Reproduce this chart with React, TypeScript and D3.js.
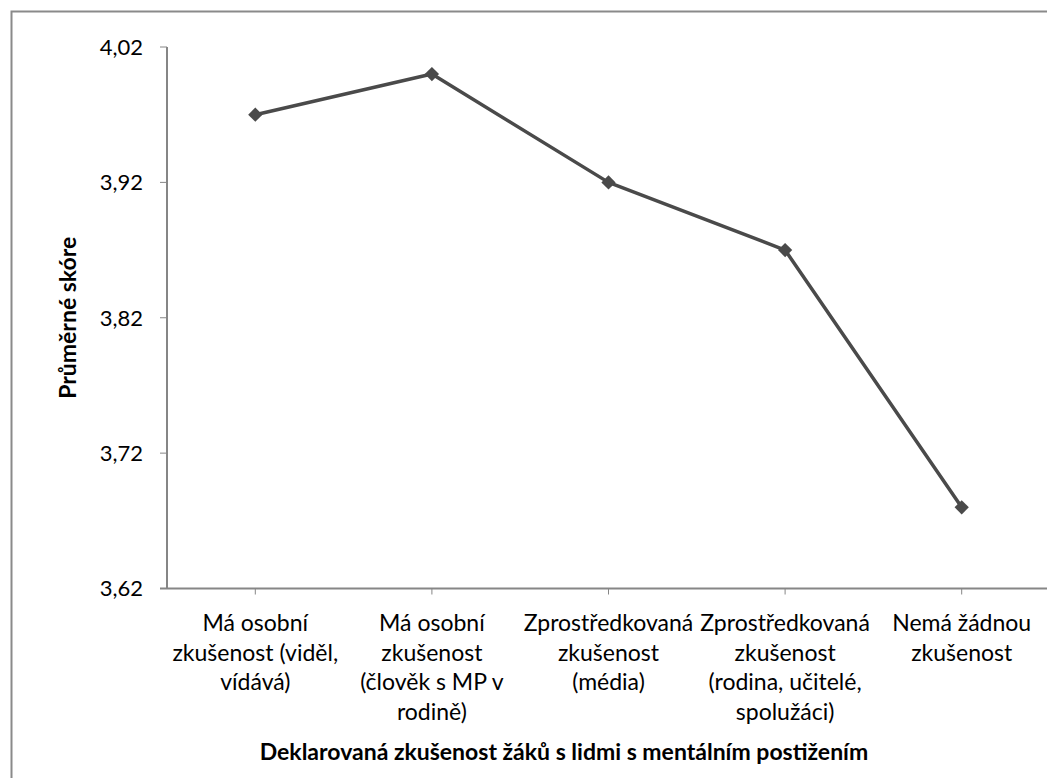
import { useEffect, useRef } from 'react';
import * as d3 from 'd3';

// category labels, already broken into lines like in the original
const categories = [
  'Má osobní zkušenost (viděl, vídává)',
  'Má osobní zkušenost (člověk s MP v rodině)',
  'Zprostředkovaná zkušenost (média)',
  'Zprostředkovaná zkušenost (rodina, učitelé, spolužáci)',
  'Nemá žádnou zkušenost',
];

const categoryLines = [
  ['Má osobní', 'zkušenost (viděl,', 'vídává)'],
  ['Má osobní', 'zkušenost', '(člověk s MP v', 'rodině)'],
  ['Zprostředkovaná', 'zkušenost', '(média)'],
  ['Zprostředkovaná', 'zkušenost', '(rodina, učitelé,', 'spolužáci)'],
  ['Nemá žádnou', 'zkušenost'],
];

const scores = [3.97, 4.0, 3.92, 3.87, 3.68];

const yTicks = [3.62, 3.72, 3.82, 3.92, 4.02];

const xTitle = 'Deklarovaná zkušenost žáků s lidmi s mentálním postižením';
const yTitle = 'Průměrné skóre';

const App = () => {
  const svgRef = useRef<SVGSVGElement>(null);

  useEffect(() => {
    const width = 1047;
    const height = 778;
    const font = 'Lato, "Open Sans", sans-serif';
    const axisColor = '#868686';
    const lineColor = '#4a4a4a';

    const svg = d3.select(svgRef.current);
    svg.selectAll('*').remove();
    svg.attr('width', width).attr('height', height);

    // outer chart frame
    svg
      .append('rect')
      .attr('x', 11.5)
      .attr('y', 11.5)
      .attr('width', width + 20)
      .attr('height', height + 20)
      .attr('fill', 'white')
      .attr('stroke', '#8a8a8a')
      .attr('stroke-width', 2);

    const left = 167;
    const top = 47;
    const bottom = 588.5;

    const x = d3
      .scaleBand()
      .domain(categories)
      .range([left, left + 5 * 176.6]);

    const y = d3.scaleLinear().domain([3.62, 4.02]).range([bottom, top]);

    const cx = (c) => (x(c) as number) + x.bandwidth() / 2;

    // y axis
    svg
      .append('line')
      .attr('x1', left)
      .attr('x2', left)
      .attr('y1', top)
      .attr('y2', bottom)
      .attr('stroke', axisColor)
      .attr('stroke-width', 2);

    yTicks.forEach((t) => {
      svg
        .append('line')
        .attr('x1', left - 7)
        .attr('x2', left)
        .attr('y1', y(t))
        .attr('y2', y(t))
        .attr('stroke', axisColor)
        .attr('stroke-width', 1);
      svg
        .append('text')
        .attr('x', 143)
        .attr('y', y(t))
        .attr('dy', '0.36em')
        .attr('text-anchor', 'end')
        .style('font-family', font)
        .style('font-size', '22px')
        .style('fill', '#000')
        .text(d3.format('.2f')(t).replace('.', ','));
    });

    // x axis
    svg
      .append('line')
      .attr('x1', left - 7)
      .attr('x2', width)
      .attr('y1', bottom)
      .attr('y2', bottom)
      .attr('stroke', axisColor)
      .attr('stroke-width', 2);

    categories.forEach((c, i) => {
      svg
        .append('line')
        .attr('x1', cx(c))
        .attr('x2', cx(c))
        .attr('y1', bottom)
        .attr('y2', bottom + 6)
        .attr('stroke', axisColor)
        .attr('stroke-width', 1);

      const label = svg
        .append('text')
        .attr('text-anchor', 'middle')
        .style('font-family', font)
        .style('font-size', '23px')
        .style('fill', '#000');
      categoryLines[i].forEach((ln, j) => {
        label
          .append('tspan')
          .attr('x', cx(c))
          .attr('y', 631 + j * 29.6)
          .text(ln);
      });
    });

    // line + diamond markers
    const line = d3
      .line<number>()
      .x((d, i) => cx(categories[i]))
      .y((d) => y(d));

    svg
      .append('path')
      .datum(scores)
      .attr('d', line)
      .attr('fill', 'none')
      .attr('stroke', lineColor)
      .attr('stroke-width', 3.5)
      .attr('stroke-linejoin', 'round');

    const diamond = d3.symbol().type(d3.symbolDiamond2).size(130);

    svg
      .selectAll('.marker')
      .data(scores)
      .enter()
      .append('path')
      .attr('class', 'marker')
      .attr('d', diamond)
      .attr('transform', (d, i) => `translate(${cx(categories[i])},${y(d)})`)
      .attr('fill', lineColor);

    // axis titles
    svg
      .append('text')
      .attr('x', 564)
      .attr('y', 760)
      .attr('text-anchor', 'middle')
      .style('font-family', font)
      .style('font-size', '23px')
      .style('font-weight', 'bold')
      .style('fill', '#000')
      .text(xTitle);

    svg
      .append('text')
      .attr('transform', `translate(76, ${(top + bottom) / 2}) rotate(-90)`)
      .attr('text-anchor', 'middle')
      .style('font-family', font)
      .style('font-size', '23px')
      .style('font-weight', 'bold')
      .style('fill', '#000')
      .text(yTitle);
  }, []);

  return (
    <div style={{ position: 'absolute', left: 0, top: 0 }}>
      <svg ref={svgRef}></svg>
    </div>
  );
};

export default App;
